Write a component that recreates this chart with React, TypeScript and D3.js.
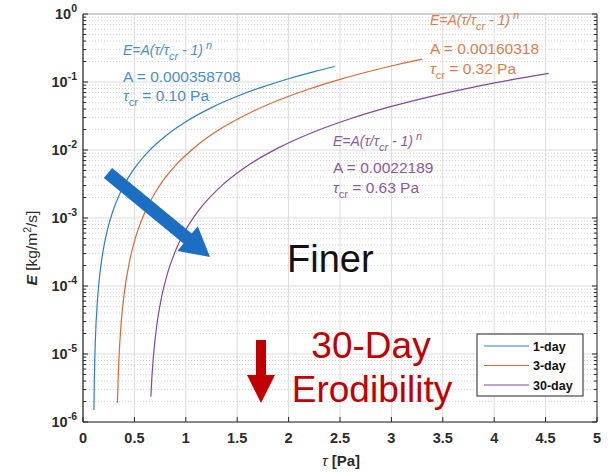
import { useEffect, useRef } from "react";
import * as d3 from "d3";

const W = 611;
const H = 473;

// x ticks (shear stress) and y decades (erosion rate)
const xTicks = [0, 0.5, 1, 1.5, 2, 2.5, 3, 3.5, 4, 4.5, 5];
const yExps = [-6, -5, -4, -3, -2, -1, 0];

// curves: tau [Pa] and E [kg/m2/s]
const tau1 = [0.106, 0.11, 0.12, 0.14, 0.17, 0.2, 0.25, 0.3, 0.4, 0.5, 0.65, 0.8, 1.0, 1.25, 1.5, 1.75, 2.0, 2.25, 2.45];
const e1 = [1.5e-6, 4.02e-6, 1.556e-5, 6.01e-5, 1.789e-4, 3.587e-4, 7.91e-4, 1.386e-3, 3.056e-3, 5.355e-3, 9.965e-3, 1.594e-2, 2.603e-2, 4.198e-2, 6.162e-2, 8.49e-2, 0.1118, 0.1423, 0.1692];

const tau3 = [0.335, 0.34, 0.35, 0.37, 0.4, 0.45, 0.5, 0.6, 0.75, 0.9, 1.1, 1.35, 1.6, 1.9, 2.2, 2.5, 2.8, 3.05, 3.3];
const e3 = [1.908e-6, 3.596e-6, 8.777e-6, 2.7e-5, 7.594e-5, 2.209e-4, 4.521e-4, 1.195e-3, 3.071e-3, 5.932e-3, 1.138e-2, 2.099e-2, 3.385e-2, 5.38e-2, 7.885e-2, 0.1092, 0.145, 0.1792, 0.2173];

const tau30 = [0.66, 0.67, 0.69, 0.72, 0.76, 0.82, 0.9, 1.0, 1.15, 1.35, 1.6, 1.9, 2.25, 2.6, 3.0, 3.4, 3.8, 4.2, 4.53];
const e30 = [2.35e-6, 4.489e-6, 1.118e-5, 2.782e-5, 6.366e-5, 1.496e-4, 3.297e-4, 6.701e-4, 1.441e-3, 2.996e-3, 5.86e-3, 1.074e-2, 1.858e-2, 2.885e-2, 4.373e-2, 6.212e-2, 8.414e-2, 0.1099, 0.1341];

const seriesNames = ["1-day", "3-day", "30-day"];
const aValues = ["0.000358708", "0.00160318", "0.0022189"];
const tauCrValues = ["0.10", "0.32", "0.63"];

const lineColors = ["#2f7fc0", "#d96a36", "#85489b"];
const textColors = ["#4a8fca", "#d9804f", "#8c5aa3"];

function App() {
  const node = useRef<HTMLDivElement>(null);

  useEffect(() => {
    document.body.style.margin = "0";
    const root = d3.select(node.current);
    root.selectAll("*").remove();

    const svg = root
      .append("svg")
      .attr("width", W)
      .attr("height", H)
      .style("display", "block")
      .style("font-family", "'Liberation Sans', Arial, sans-serif")
      .style("background", "#fff");

    const left = 83, right = 597, top = 14, bottom = 422;

    const x = d3.scaleLinear().domain([0, 5]).range([left, right]);
    const y = d3.scaleLog().domain([1e-6, 1]).range([bottom, top]);

    // minor grid (dotted)
    const minors: number[] = [];
    yExps.slice(0, -1).forEach((p) => {
      for (let k = 2; k <= 9; k++) minors.push(k * Math.pow(10, p));
    });
    svg.append("g")
      .selectAll("line")
      .data(minors)
      .join("line")
      .attr("x1", left).attr("x2", right)
      .attr("y1", (d) => y(d)).attr("y2", (d) => y(d))
      .attr("stroke", "#d2d2d2")
      .attr("stroke-width", 1)
      .attr("stroke-dasharray", "1,2");

    // major grid
    svg.append("g")
      .selectAll("line")
      .data(yExps.map((p) => Math.pow(10, p)))
      .join("line")
      .attr("x1", left).attr("x2", right)
      .attr("y1", (d) => y(d)).attr("y2", (d) => y(d))
      .attr("stroke", "#dcdcdc");
    svg.append("g")
      .selectAll("line")
      .data(xTicks)
      .join("line")
      .attr("x1", (d) => x(d)).attr("x2", (d) => x(d))
      .attr("y1", top).attr("y2", bottom)
      .attr("stroke", "#dcdcdc");

    // curves
    const series = [
      tau1.map((t, i) => [t, e1[i]]),
      tau3.map((t, i) => [t, e3[i]]),
      tau30.map((t, i) => [t, e30[i]]),
    ];
    const line = d3.line<number[]>()
      .x((d) => x(d[0]))
      .y((d) => y(d[1]))
      .curve(d3.curveMonotoneX);
    svg.append("g")
      .selectAll("path")
      .data(series)
      .join("path")
      .attr("d", (d) => line(d))
      .attr("fill", "none")
      .attr("stroke", (_, i) => lineColors[i])
      .attr("stroke-width", 1.2);

    // axes box and inner ticks
    svg.append("line").attr("x1", left).attr("x2", right).attr("y1", top).attr("y2", top)
      .attr("stroke", "#b5b5b5");
    svg.append("line").attr("x1", right).attr("x2", right).attr("y1", top).attr("y2", bottom)
      .attr("stroke", "#333");
    svg.append("line").attr("x1", left).attr("x2", left).attr("y1", top).attr("y2", bottom)
      .attr("stroke", "#262626").attr("stroke-width", 1.2);
    svg.append("line").attr("x1", left).attr("x2", right).attr("y1", bottom).attr("y2", bottom)
      .attr("stroke", "#262626").attr("stroke-width", 1.2);

    const tk = svg.append("g").attr("stroke", "#262626");
    xTicks.forEach((t) => {
      tk.append("line").attr("x1", x(t)).attr("x2", x(t)).attr("y1", bottom).attr("y2", bottom - 5);
    });
    yExps.forEach((p) => {
      const v = y(Math.pow(10, p));
      tk.append("line").attr("x1", left).attr("x2", left + 5).attr("y1", v).attr("y2", v);
      tk.append("line").attr("x1", right).attr("x2", right - 5).attr("y1", v).attr("y2", v);
    });
    minors.forEach((m) => {
      const v = y(m);
      tk.append("line").attr("x1", left).attr("x2", left + 3).attr("y1", v).attr("y2", v);
      tk.append("line").attr("x1", right).attr("x2", right - 3).attr("y1", v).attr("y2", v);
    });

    // tick labels
    svg.append("g")
      .selectAll("text")
      .data(xTicks)
      .join("text")
      .attr("x", (d) => x(d))
      .attr("y", 443)
      .attr("text-anchor", "middle")
      .attr("font-size", 14.5)
      .attr("font-weight", "bold")
      .attr("fill", "#2b2b2b")
      .text((d) => String(d));

    const yl = svg.append("g").attr("fill", "#2b2b2b").attr("font-weight", "bold");
    yExps.forEach((p) => {
      const t = yl.append("text")
        .attr("x", 77)
        .attr("y", y(Math.pow(10, p)) + 5)
        .attr("text-anchor", "end")
        .attr("font-size", 14.5);
      t.append("tspan").text("10");
      t.append("tspan").attr("dy", -7).attr("font-size", 10.5).text(String(p));
    });

    // axis titles
    const xt = svg.append("text")
      .attr("x", 341).attr("y", 466)
      .attr("text-anchor", "middle")
      .attr("font-size", 15).attr("font-weight", "bold").attr("fill", "#2b2b2b");
    xt.append("tspan").attr("font-style", "italic").attr("font-weight", "normal").text("τ");
    xt.append("tspan").text(" [Pa]");

    const ytl = svg.append("text")
      .attr("transform", "translate(37,248) rotate(-90)")
      .attr("text-anchor", "middle")
      .attr("font-size", 15.5).attr("fill", "#2b2b2b");
    ytl.append("tspan").attr("font-style", "italic").attr("font-weight", "bold").text("E");
    ytl.append("tspan").text(" [kg/m");
    ytl.append("tspan").attr("dy", -6).attr("font-size", 10.5).text("2");
    ytl.append("tspan").attr("dy", 6).text("/s]");

    // fit annotations
    const annPos = [[123, 55, 27, 46], [430, 25, 29, 49], [333, 146, 27, 47]];
    annPos.forEach((p, i) => {
      const g = svg.append("g").attr("fill", textColors[i]).style("white-space", "pre");
      const f = g.append("text").attr("x", p[0]).attr("y", p[1])
        .attr("font-size", 14).attr("font-style", "italic");
      f.append("tspan").text("E=A(τ/τ");
      f.append("tspan").attr("dy", 5).attr("font-size", 11).text("cr");
      f.append("tspan").attr("dy", -5).text(" - 1)");
      f.append("tspan").attr("dy", -6).attr("font-size", 11).text(" n");

      g.append("text").attr("x", p[0]).attr("y", p[1] + p[2])
        .attr("font-size", 15.5).text("A = " + aValues[i]);

      const tc = g.append("text").attr("x", p[0]).attr("y", p[1] + p[3]).attr("font-size", 15.5);
      tc.append("tspan").attr("font-style", "italic").text("τ");
      tc.append("tspan").attr("dy", 5).attr("font-size", 11).text("cr");
      tc.append("tspan").attr("dy", -5).text(" =  " + tauCrValues[i] + " Pa");
    });

    // legend
    const lg = svg.append("g");
    lg.append("rect").attr("x", 477).attr("y", 334).attr("width", 106).attr("height", 62)
      .attr("fill", "#fff").attr("stroke", "#222").attr("stroke-width", 1);
    seriesNames.forEach((n, i) => {
      const ly = 346 + i * 19.5;
      lg.append("line").attr("x1", 484).attr("x2", 529).attr("y1", ly).attr("y2", ly)
        .attr("stroke", lineColors[i]).attr("stroke-width", 1.2);
      lg.append("text").attr("x", 533).attr("y", ly + 4.5)
        .attr("font-size", 12.5).attr("font-weight", "bold").attr("fill", "#111").text(n);
    });

    // blue "finer" arrow
    const ax0 = 108, ay0 = 173, ax1 = 210, ay1 = 257;
    const ang = Math.atan2(ay1 - ay0, ax1 - ax0);
    const headL = 29, headW = 16, shaftW = 6.5;
    const bx = ax1 - headL * Math.cos(ang), by = ay1 - headL * Math.sin(ang);
    const nx = -Math.sin(ang), ny = Math.cos(ang);
    const arrowPts = [
      [ax0 + nx * shaftW, ay0 + ny * shaftW],
      [bx + nx * shaftW, by + ny * shaftW],
      [bx + nx * headW, by + ny * headW],
      [ax1, ay1],
      [bx - nx * headW, by - ny * headW],
      [bx - nx * shaftW, by - ny * shaftW],
      [ax0 - nx * shaftW, ay0 - ny * shaftW],
    ];
    svg.append("polygon").attr("points", arrowPts.map((d) => d.join(",")).join(" "))
      .attr("fill", "#1b6ec2");

    svg.append("text").attr("x", 287).attr("y", 272)
      .attr("font-size", 38).attr("fill", "#111").text("Finer");

    // red down arrow + label
    svg.append("polygon")
      .attr("points", "256,340 266,340 266,375 275,375 261,403 247,375 256,375")
      .attr("fill", "#c00000");
    const rt = svg.append("g").attr("fill", "#c00000").attr("font-size", 37).attr("text-anchor", "middle");
    rt.append("text").attr("x", 371).attr("y", 358).text("30-Day");
    rt.append("text").attr("x", 372).attr("y", 402).text("Erodibility");
  }, []);

  return <div ref={node}></div>;
}

export default App;
